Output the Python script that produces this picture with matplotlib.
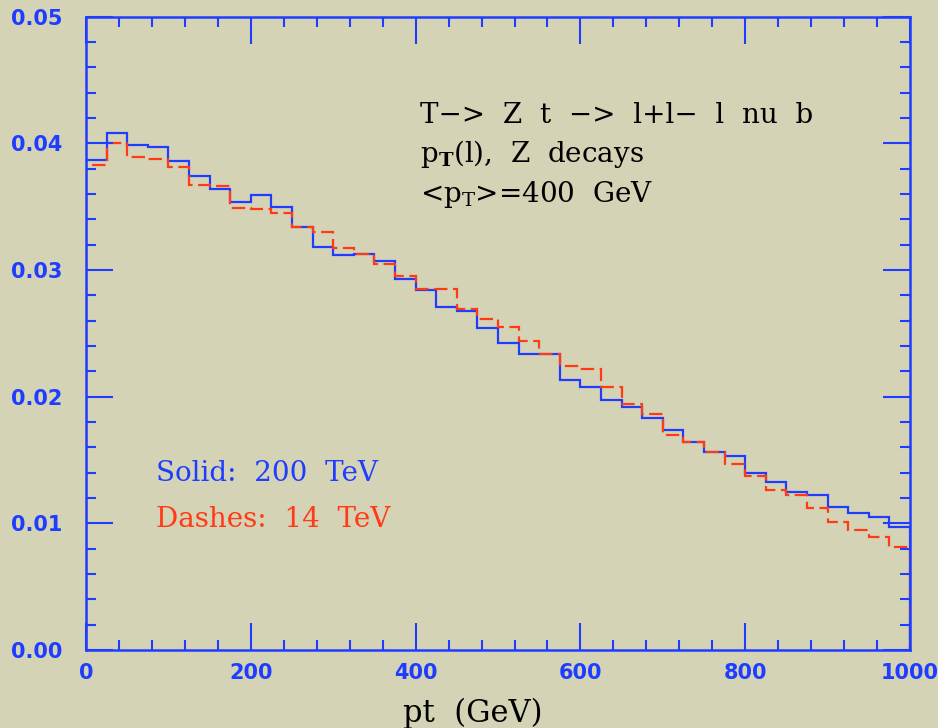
import numpy as np
import matplotlib
matplotlib.use("Agg")
import matplotlib.pyplot as plt
from matplotlib.ticker import MultipleLocator

# pt histogram, 25 GeV bins from 0 to 1000 GeV
bin_edges = np.linspace(0, 1000, 41)

# Solid: 200 TeV
solid_200 = [0.0387, 0.0408, 0.0399, 0.0397, 0.0386, 0.0374, 0.0364, 0.0354,
             0.0359, 0.0350, 0.0334, 0.0318, 0.0312, 0.0313, 0.0307, 0.0293,
             0.0284, 0.0271, 0.0268, 0.0254, 0.0242, 0.0234, 0.0234, 0.0213,
             0.0208, 0.0197, 0.0192, 0.0183, 0.0174, 0.0164, 0.0156, 0.0153,
             0.0140, 0.0133, 0.0125, 0.0122, 0.0113, 0.0108, 0.0105, 0.0097]

# Dashes: 14 TeV
dash_14 = [0.0383, 0.0400, 0.0389, 0.0388, 0.0381, 0.0367, 0.0366, 0.0349,
           0.0348, 0.0345, 0.0334, 0.0330, 0.0317, 0.0313, 0.0305, 0.0295,
           0.0285, 0.0285, 0.0269, 0.0261, 0.0255, 0.0244, 0.0234, 0.0224,
           0.0222, 0.0208, 0.0194, 0.0186, 0.0170, 0.0164, 0.0156, 0.0147,
           0.0137, 0.0126, 0.0122, 0.0112, 0.0101, 0.0095, 0.0089, 0.0081]

xticks = [0, 200, 400, 600, 800, 1000]
yticks = [0.00, 0.01, 0.02, 0.03, 0.04, 0.05]

BLUE = '#1f3dff'
RED = '#ff3a14'
BG = '#d5d3b6'

plt.rcParams['mathtext.fontset'] = 'dejavuserif'

fig = plt.figure(figsize=(9.38, 7.28), dpi=100, facecolor=BG)
ax = fig.add_axes([0.0917, 0.1071, 0.8785, 0.870])
ax.set_facecolor(BG)

ax.stairs(solid_200, bin_edges, baseline=0, color=BLUE, lw=1.6)
ax.stairs(dash_14, bin_edges, baseline=0, color=RED, lw=1.6,
          linestyle=(0, (6, 2.5)))

ax.set_xlim(0, 1000)
ax.set_ylim(0, 0.05)
ax.set_xticks(xticks)
ax.set_yticks(yticks)
ax.set_xticklabels([str(v) for v in xticks])
ax.set_yticklabels(['%.2f' % v for v in yticks])
ax.xaxis.set_minor_locator(MultipleLocator(40))
ax.yaxis.set_minor_locator(MultipleLocator(0.002))

for s in ax.spines.values():
    s.set_color(BLUE)
    s.set_linewidth(1.8)
ax.tick_params(which='both', direction='in', top=True, right=True,
               color=BLUE, width=1.5, labelcolor=BLUE, labelsize=15)
ax.tick_params(which='major', length=19.5)
ax.tick_params(which='minor', length=7)
ax.tick_params(axis='y', pad=17)
ax.tick_params(axis='x', pad=9)
for lab in ax.get_xticklabels() + ax.get_yticklabels():
    lab.set_fontweight('bold')

# x axis title sits a bit left of the axes centre in the original
fig.text(473 / 938, 1 - 721.7 / 728, 'pt  (GeV)', family='DejaVu Serif',
         fontsize=22, ha='center', va='baseline')

txt = dict(family='DejaVu Serif', fontsize=20, color='black',
           transform=ax.transAxes, va='baseline')
ax.text(0.405, 0.8316, 'T\u2212>  Z  t  \u2212>  l+l\u2212  l  nu  b', **txt)
ax.text(0.405, 0.771, r'p$_{\mathbf{T}}$(l),  Z  decays', **txt)
ax.text(0.405, 0.7078, r'<p$_{\mathrm{T}}$>=400  GeV', **txt)

ax.text(0.085, 0.267, 'Solid:  200  TeV', family='DejaVu Serif', fontsize=20,
        color=BLUE, transform=ax.transAxes, va='baseline')
ax.text(0.085, 0.1947, 'Dashes:  14  TeV', family='DejaVu Serif', fontsize=20,
        color=RED, transform=ax.transAxes, va='baseline')

fig.savefig('out.png', dpi=100, facecolor=BG)
